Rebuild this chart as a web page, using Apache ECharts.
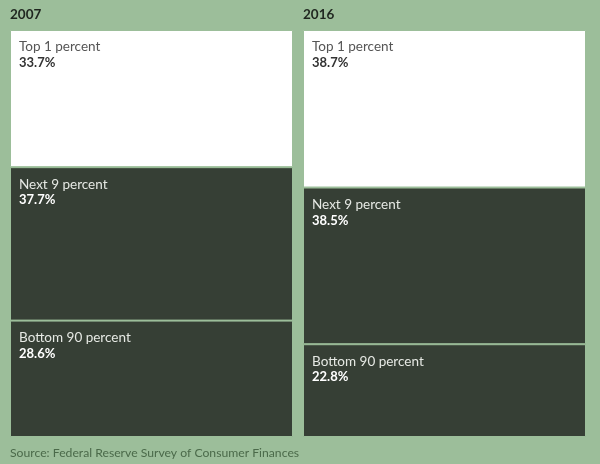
<!DOCTYPE html>
<html>
<head>
<meta charset="utf-8">
<script src="https://cdn.jsdelivr.net/npm/echarts@6/dist/echarts.min.js"></script>
<style>
    html, body { margin: 0; padding: 0; background: #9cbe9a; }
    #chart { width: 600px; height: 464px; }
</style>
</head>
<body>
<div id="chart"></div>
<script>
    var years = ['2007', '2016']
    var groups = ['Bottom 90 percent', 'Next 9 percent', 'Top 1 percent']
    var bottom90 = [28.6, 22.8]
    var next9 = [37.7, 38.5]
    var top1 = [33.7, 38.7]

    var font = 'Lato, "Open Sans", sans-serif'
    var green = '#9cbe9a'
    var dark = '#363f35'

    function makeSeries(name, data, fill, nameColor, valueColor) {
        return {
            name: name,
            type: 'bar',
            stack: 'share',
            barWidth: 283,
            data: data,
            itemStyle: {
                color: fill,
                borderColor: green,
                borderWidth: 1
            },
            label: {
                show: true,
                position: 'insideTopLeft',
                distance: 9,
                formatter: function (p) {
                    return '{n|' + name + '}\n{v|' + p.value.toFixed(1) + '%}'
                },
                rich: {
                    n: { fontFamily: font, fontSize: 13.5, color: nameColor, lineHeight: 16 },
                    v: { fontFamily: font, fontSize: 13, fontWeight: 'bold', color: valueColor, lineHeight: 16 }
                }
            }
        }
    }

    var chart = echarts.init(document.getElementById('chart'))
    chart.setOption({
        backgroundColor: green,
        animation: false,
        title: [
            { text: years[0], left: 10, top: 8, padding: 0, textStyle: { fontFamily: font, fontSize: 13.5, fontWeight: 'bold', color: '#1f261f' } },
            { text: years[1], left: 303, top: 8, padding: 0, textStyle: { fontFamily: font, fontSize: 13.5, fontWeight: 'bold', color: '#1f261f' } },
            { text: 'Source: Federal Reserve Survey of Consumer Finances', left: 10, top: 447, padding: 0, textStyle: { fontFamily: font, fontSize: 12.2, fontWeight: 'normal', color: '#4b6a4a' } }
        ],
        grid: { left: 5, right: 9, top: 30, bottom: 27 },
        xAxis: {
            type: 'category',
            data: years,
            show: false
        },
        yAxis: {
            type: 'value',
            min: 0,
            max: 100,
            show: false
        },
        series: [
            makeSeries(groups[0], bottom90, dark, '#e6e9e4', '#ffffff'),
            makeSeries(groups[1], next9, dark, '#e6e9e4', '#ffffff'),
            makeSeries(groups[2], top1, '#ffffff', '#555555', '#333333')
        ]
    })
</script>
</body>
</html>
